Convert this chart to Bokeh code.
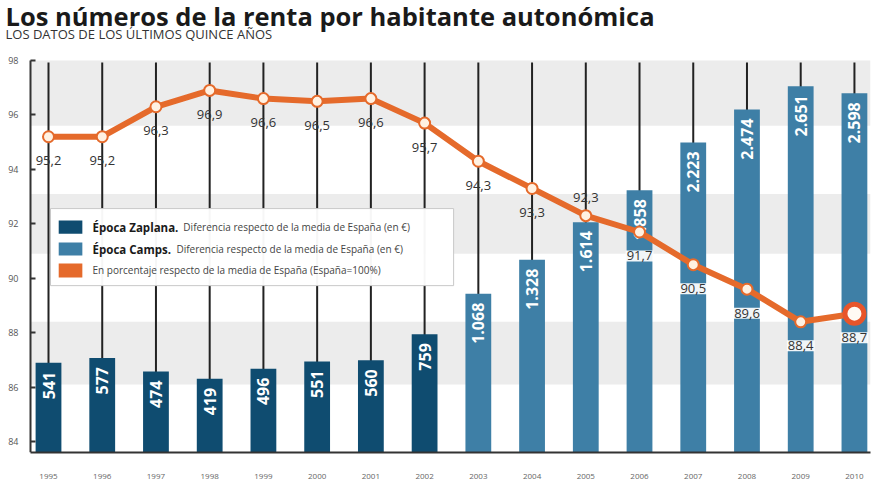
import math
from bokeh.plotting import figure
from bokeh.models import Range1d, FixedTicker, BoxAnnotation, ColumnDataSource
from bokeh.core.properties import value
from bokeh.embed import file_html
from bokeh.resources import INLINE

# ---------------- data ----------------
years = [1995, 1996, 1997, 1998, 1999, 2000, 2001, 2002,
         2003, 2004, 2005, 2006, 2007, 2008, 2009, 2010]
diff_eur = [541, 577, 474, 419, 496, 551, 560, 759,
            1068, 1328, 1614, 1858, 2223, 2474, 2651, 2598]
pct = [95.2, 95.2, 96.3, 96.9, 96.6, 96.5, 96.6, 95.7,
       94.3, 93.3, 92.3, 91.7, 90.5, 89.6, 88.4, 88.7]
era = ["Zaplana", "Zaplana", "Zaplana", "Zaplana", "Zaplana", "Zaplana", "Zaplana", "Zaplana",
       "Camps", "Camps", "Camps", "Camps", "Camps", "Camps", "Camps", "Camps"]
y_ticks = [84, 86, 88, 90, 92, 94, 96, 98]

title_text = "Los números de la renta por habitante autonómica"
subtitle_text = "LOS DATOS DE LOS ÚLTIMOS QUINCE AÑOS"
legend_bold = ["Época Zaplana.", "Época Camps."]
legend_regular = ["Diferencia respecto de la media de España (en €)",
                  "Diferencia respecto de la media de España (en €)",
                  "En porcentaje respecto de la media de España (España=100%)"]

# ---------------- styles ----------------
C_ZAPLANA = "#0f4c70"
C_CAMPS = "#3e7fa6"
C_ORANGE = "#e56a2b"
C_BAND = "#ececec"
FONT = value("Open Sans")
era_color = {"Zaplana": C_ZAPLANA, "Camps": C_CAMPS}

X0, X1 = 1994.1066, 2010.299      # full frame (canvas x 0 .. 870)
XAX = 1994.665                    # where the vertical axis sits
Y0, Y1, YTOP = 83.6, 98.0, 100.204

p = figure(width=880, height=495, output_backend="svg", toolbar_location=None,
           x_range=Range1d(X0, X1), y_range=Range1d(Y0, YTOP),
           min_border_left=0, min_border_right=10, min_border_top=0, min_border_bottom=43,
           background_fill_color="white", border_fill_color="white")
p.title.visible = False
p.outline_line_color = None
p.xgrid.visible = False
p.ygrid.visible = False
p.extra_y_ranges = {"eur": Range1d(-144, 2848 + (YTOP - Y1) * 2992 / (Y1 - Y0))}

# background bands
for top, bottom in [(98.0, 95.6), (93.1, 90.9), (88.4, 86.1)]:
    p.add_layout(BoxAnnotation(left=XAX, top=top, bottom=bottom, fill_color=C_BAND,
                               fill_alpha=1.0, line_color=None, level="underlay"))

# vertical guide lines
p.segment(x0=years, y0=[Y0] * len(years), x1=years, y1=[97.93] * len(years),
          line_color="#222222", line_width=2)

# bars
bar_src = ColumnDataSource(dict(
    year=years, eur=diff_eur,
    color=[era_color[e] for e in era],
    lbl=[f"{v:,}".replace(",", ".") for v in diff_eur],
))
p.vbar(x="year", top="eur", bottom=-144, width=0.48, y_range_name="eur",
       fill_color="color", line_color=None, source=bar_src)
p.text(x="year", y="eur", text="lbl", y_range_name="eur", source=bar_src,
       angle=math.pi / 2, text_align="right", text_baseline="middle", y_offset=9,
       text_color="white", text_font_style="bold", text_font_size="16px", text_font=FONT)

# legend box (custom, to allow bold + regular text)
p.quad(left=[1995.037], right=[2002.54], top=[92.56], bottom=[89.73],
       fill_color="white", fill_alpha=0.96, line_color="#c8c8c8", line_width=1)
sw_rows = [(92.12, 91.64), (91.31, 90.84), (90.54, 90.03)]
sw_cols = [C_ZAPLANA, C_CAMPS, C_ORANGE]
p.quad(left=[1995.19] * 3, right=[1995.63] * 3,
       top=[r[0] for r in sw_rows], bottom=[r[1] for r in sw_rows],
       fill_color=sw_cols, line_color=None)
row_y = [91.88, 91.07, 90.29]
p.text(x=[1995.82] * 2, y=row_y[:2], text=legend_bold,
       text_baseline="middle", text_align="left", text_color="#1a1a1a",
       text_font_style="bold", text_font_size="11.5px", text_font=FONT)
p.text(x=[1997.51, 1997.38, 1995.82], y=row_y, text=legend_regular,
       text_baseline="middle", text_align="left", text_color="#444444",
       text_font_size="10px", text_font=FONT)

# orange line
p.line(years, pct, line_color=C_ORANGE, line_width=6, line_join="round")
p.scatter(years[:-1], pct[:-1], size=11, fill_color="#fff1e2",
          line_color=C_ORANGE, line_width=2)
p.scatter([years[-1]], [pct[-1]], size=19, fill_color="#fffaf4",
          line_color="#e8552a", line_width=5)

# line value labels
lab_src = ColumnDataSource(dict(
    year=years, pct=pct,
    lbl=[f"{v:.1f}".replace(".", ",") for v in pct],
    yoff=[24, 24, 24, 24, 24, 24, 24, 24, 24, 24, -18, 24, 24, 24, 24, 24],
    bga=[0, 0, 0, 0, 0, 0, 0, 0, 0, 0, 0, 0.92, 0.92, 0.92, 0.92, 0.92],
))
p.text(x="year", y="pct", text="lbl", y_offset="yoff", source=lab_src,
       text_align="center", text_baseline="middle", text_color="#333333",
       text_font_size="13px", text_font=FONT,
       background_fill_color="white", background_fill_alpha="bga", padding=1)

# titles (in the top strip of the frame)
p.text(x=[1994.2], y=[99.64], text=[title_text], text_baseline="alphabetic",
       text_align="left", text_font=FONT, text_font_style="bold",
       text_font_size="25.5px", text_color="#1a1a1a")
p.text(x=[1994.2], y=[98.98], text=[subtitle_text], text_baseline="middle",
       text_align="left", text_font=FONT, text_font_size="13px", text_color="#333333")

# axes
p.xaxis.ticker = FixedTicker(ticks=years)
p.xaxis.bounds = (XAX, X1)
p.xaxis.major_tick_line_color = None
p.xaxis.minor_tick_line_color = None
p.xaxis.axis_line_color = "#333333"
p.xaxis.axis_line_width = 2
p.xaxis.major_label_standoff = 15
p.xaxis.major_label_text_font_size = "8px"
p.xaxis.major_label_text_color = "#666666"
p.xaxis.major_label_text_font = "Open Sans"

p.yaxis.fixed_location = XAX
p.yaxis.bounds = (Y0, Y1)
p.yaxis.ticker = FixedTicker(ticks=y_ticks)
p.yaxis.minor_tick_line_color = None
p.yaxis.major_tick_in = 5
p.yaxis.major_tick_out = 0
p.yaxis.major_tick_line_color = "#333333"
p.yaxis.major_tick_line_width = 2
p.yaxis.axis_line_color = "#333333"
p.yaxis.axis_line_width = 2
p.yaxis.major_label_standoff = 12
p.yaxis.major_label_text_font_size = "9px"
p.yaxis.major_label_text_color = "#555555"
p.yaxis.major_label_text_font = "Open Sans"

open("out.html", "w").write(file_html(p, INLINE))
